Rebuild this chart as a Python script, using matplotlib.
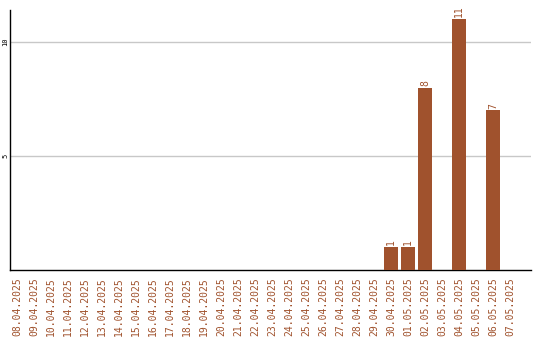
import matplotlib
matplotlib.use("Agg")
import matplotlib.pyplot as plt
import pandas as pd

dates = [d.strftime("%d.%m.%Y") for d in pd.date_range("2025-04-08", "2025-05-07")]
counts = [0] * 22 + [1, 1, 8, 0, 11, 0, 7, 0]
yticks = [5, 10]
bar_color = "#A0522D"

fig = plt.figure(figsize=(5.4, 3.4), dpi=100)
ax = fig.add_axes([10 / 540, 70 / 340, 521 / 540, 260 / 340])

x = list(range(len(dates)))
ax.bar(x, counts, width=0.82, color=bar_color, zorder=3)
for xi, v in zip(x, counts):
    if v > 0:
        ax.text(xi, v + 0.08, str(v), rotation=90, ha="center", va="bottom",
                color=bar_color, fontsize=7, family="DejaVu Sans Mono")

ax.set_xlim(-0.41, 30.24)
ax.set_ylim(0, 11.4)
ax.set_yticks(yticks)
ax.set_yticklabels([str(t) for t in yticks], rotation=90, va="center",
                   fontsize=5, family="DejaVu Sans Mono")
ax.set_xticks(x)
ax.set_xticklabels(dates, rotation=90, fontsize=7, family="DejaVu Sans Mono",
                   color=bar_color)
ax.tick_params(axis="both", length=0)
ax.tick_params(axis="x", pad=5)
ax.tick_params(axis="y", pad=1)
ax.yaxis.grid(True, color="#c8c8c8", linewidth=1)
ax.set_axisbelow(True)
for s in ("top", "right"):
    ax.spines[s].set_visible(False)
for s in ("left", "bottom"):
    ax.spines[s].set_color("black")
    ax.spines[s].set_linewidth(1)

fig.savefig("out.png", dpi=100)
